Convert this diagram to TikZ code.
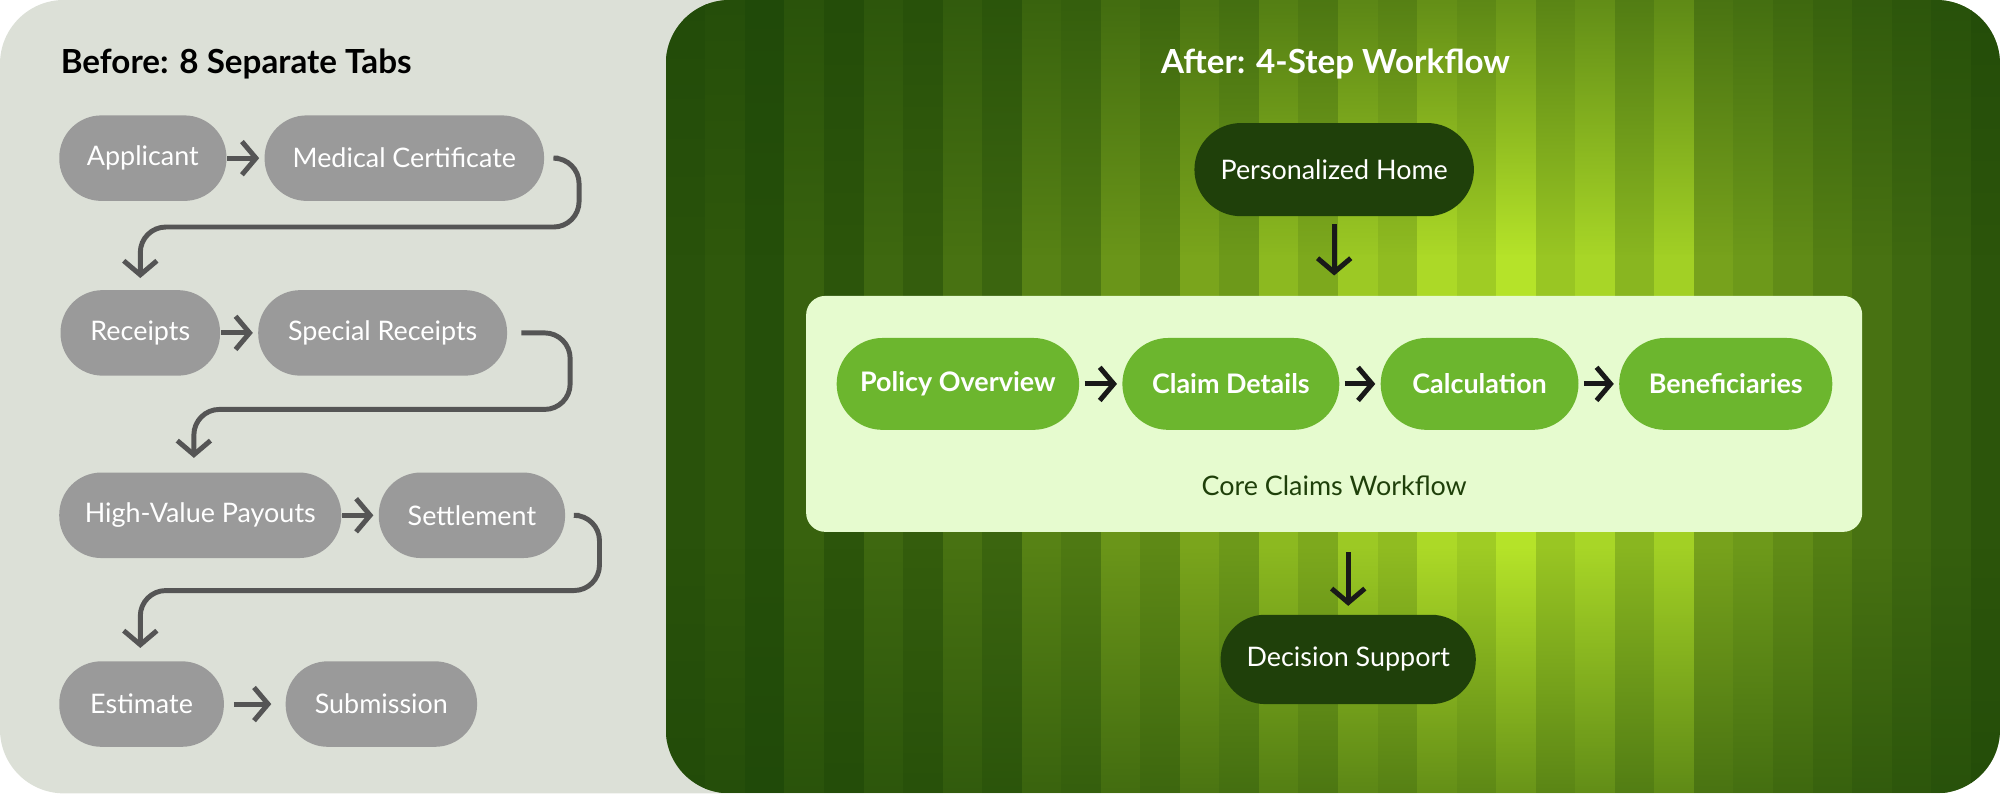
\documentclass[tikz,border=0pt]{standalone}
\usepackage{fontspec}
\setmainfont{Lato}
\usetikzlibrary{arrows.meta,fadings}
\definecolor{leftbg}{HTML}{DCE0D7}
\definecolor{pillgray}{HTML}{9A9A9A}
\definecolor{arrgray}{HTML}{555555}
\definecolor{darkg}{HTML}{1C4508}
\definecolor{limeg}{HTML}{B8E62A}
\definecolor{homeg}{HTML}{1F400A}
\definecolor{stepg}{HTML}{6CB62E}
\definecolor{boxg}{HTML}{E6FBCF}
\tikzset{
  graypill/.style={fill=pillgray,text=white,rounded corners=0.33cm,minimum height=0.67cm,inner xsep=0,font=\fontsize{6.0}{7}\selectfont},
  darkpill/.style={fill=homeg,text=white,rounded corners=0.36cm,minimum height=0.72cm,inner xsep=0,font=\fontsize{6.0}{7}\selectfont},
  steppill/.style={fill=stepg,text=white,rounded corners=0.36cm,minimum height=0.72cm,inner xsep=0,font=\bfseries\fontsize{6.0}{7}\selectfont},
  garr/.style={draw=arrgray,line width=1.1pt,-{Straight Barb[length=1.1mm,width=2.6mm]}},
  barr/.style={draw=black!90,line width=1.1pt,-{Straight Barb[length=1.1mm,width=2.6mm]}},
  title/.style={font=\bfseries\fontsize{7.4}{9}\selectfont,inner sep=0}
}
\begin{document}
\begin{tikzpicture}[x=0.01cm,y=-0.01cm]
\useasboundingbox (0,0) rectangle (1568,622);
\fill[leftbg,rounded corners=0.5cm] (0,0) rectangle (1568,622);
% green panel
\begin{scope}
\clip[rounded corners=0.5cm] (522,0) rectangle (1568,622);
\foreach \p [count=\i] in {8,12,6,18,10,22,15,28,20,38,32,50,42,60,52,72,62,82,74,92,84,98,80,90,70,86,58,52,44,36,28,22,16,10} {
  \fill[limeg!\p!darkg] ({522+(\i-1)*31},0) rectangle ({522+\i*31+1},622);
}
\fill[darkg,path fading=south,fill opacity=0.5] (522,0) rectangle (1568,200);
\fill[darkg,path fading=north,fill opacity=0.5] (522,430) rectangle (1568,622);
\end{scope}
% left
\node[title,anchor=west] at (47,50) {Before: 8 Separate Tabs};
\node[graypill,minimum width=1.31cm] (a) at (112,124) {Applicant};
\node[graypill,minimum width=2.19cm] (m) at (317,124) {Medical Certificate};
\node[graypill,minimum width=1.25cm] (r) at (110,261) {Receipts};
\node[graypill,minimum width=1.95cm] (s) at (300,261) {Special Receipts};
\node[graypill,minimum width=2.21cm] (h) at (157,404) {High-Value Payouts};
\node[graypill,minimum width=1.46cm] (t) at (370,404) {Settlement};
\node[graypill,minimum width=1.29cm] (e) at (111,552) {Estimate};
\node[graypill,minimum width=1.50cm] (u) at (299,552) {Submission};
\draw[garr] (a.east) -- ([xshift=-1]m.west);
\draw[garr] (r.east) -- ([xshift=-1]s.west);
\draw[garr] (h.east) -- ([xshift=-1]t.west);
\draw[garr] ([xshift=2]e.east) -- ([xshift=-3]u.west);
\draw[garr,rounded corners=0.2cm] ([xshift=3]m.east) -- (454,124) -- (454,178) -- (110,178) -- (110,218);
\draw[garr,rounded corners=0.2cm] ([xshift=3]s.east) -- (447,261) -- (447,321) -- (152,321) -- (152,359);
\draw[garr,rounded corners=0.2cm] ([xshift=3]t.east) -- (470,404) -- (470,463) -- (110,463) -- (110,508);
% right
\node[title,text=white] at (1047,50) {After: 4-Step Workflow};
\node[darkpill,minimum width=2.19cm,minimum height=0.73cm,rounded corners=0.365cm] (home) at (1046,133) {Personalized Home};
\fill[boxg,rounded corners=0.15cm] (632,232) rectangle (1460,417);
\coordinate (h1) at (1046,176);
\coordinate (h2) at (1046,216);
\coordinate (d1) at (1057,433);
\coordinate (d2) at (1057,475);
\node[steppill,minimum width=1.90cm] (p1) at (751,301) {Policy Overview};
\node[steppill,minimum width=1.70cm] (p2) at (965,301) {Claim Details};
\node[steppill,minimum width=1.55cm] (p3) at (1160,301) {Calculation};
\node[steppill,minimum width=1.67cm] (p4) at (1353,301) {Beneficiaries};
\node[text=homeg,font=\fontsize{6.0}{7}\selectfont] (core) at (1046,381) {Core Claims Workflow};
\node[darkpill,minimum width=2.00cm,minimum height=0.70cm,rounded corners=0.35cm] (dec) at (1057,517) {Decision Support};
\draw[barr] (h1) -- (h2);
\draw[barr] ([xshift=1]p1.east) -- ([xshift=-1]p2.west);
\draw[barr] ([xshift=1]p2.east) -- ([xshift=-1]p3.west);
\draw[barr] ([xshift=1]p3.east) -- ([xshift=-1]p4.west);
\draw[barr] (d1) -- (d2);
\end{tikzpicture}
\end{document}
